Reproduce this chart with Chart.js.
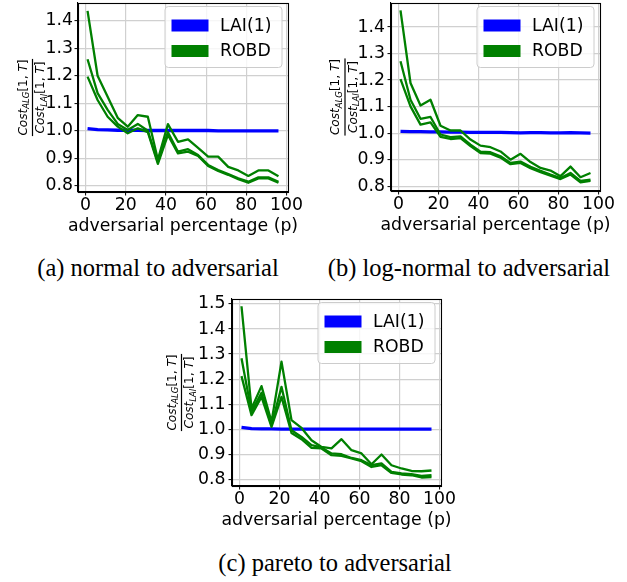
<!DOCTYPE html>
<html><head><meta charset="utf-8">
<script src="https://cdn.jsdelivr.net/npm/chart.js@4/dist/chart.umd.min.js"></script>
<style>
html,body{margin:0;padding:0;background:#fff;}
body{width:627px;height:582px;position:relative;overflow:hidden;}
canvas{position:absolute;}
.cap{position:absolute;font-family:"Liberation Serif","Times New Roman",serif;font-size:24.5px;color:#000;white-space:nowrap;transform:translateX(-50%);line-height:1;}
</style></head><body>
<canvas id="ca" width="310" height="245" style="left:0;top:0;width:310px;height:245px"></canvas>
<canvas id="cb" width="317" height="245" style="left:310px;top:0;width:317px;height:245px"></canvas>
<canvas id="cc" width="310" height="250" style="left:150px;top:290px;width:310px;height:250px"></canvas>
<div class="cap" style="left:158px;top:256px">(a) normal to adversarial</div>
<div class="cap" style="left:469px;top:256px">(b) log-normal to adversarial</div>
<div class="cap" style="left:335px;top:551px">(c) pareto to adversarial</div>
<script>
// ---------- data ----------
const pValues = [1,6,11,16,21,26,31,36,41,46,51,56,61,66,71,76,81,86,91,96];
const xTicks = [0,20,40,60,80,100];
const seriesNames = ['LAI(1)', 'ROBD'];
const xTitle = 'adversarial percentage (p)';

// (a) normal to adversarial
const yTicksA = [0.8,0.9,1.0,1.1,1.2,1.3,1.4];
const laiA = [1.008,1.004,1.003,1.002,1.002,1.002,1.001,1.001,1.001,1.001,1.001,1.001,1.001,1.000,1.000,1.000,1.000,1.000,1.000,1.000];
const robdUpperA = [1.436,1.200,1.124,1.047,1.015,1.057,1.051,0.895,1.024,0.960,0.969,0.938,0.906,0.906,0.869,0.856,0.836,0.856,0.856,0.835];
const robdMidA   = [1.260,1.137,1.076,1.025,1.003,1.025,1.000,0.886,0.995,0.924,0.933,0.912,0.876,0.857,0.843,0.827,0.815,0.831,0.831,0.815];
const robdLowA   = [1.197,1.112,1.051,1.015,0.991,1.009,0.995,0.880,0.985,0.918,0.924,0.909,0.872,0.854,0.840,0.824,0.811,0.827,0.827,0.811];

// (b) log-normal to adversarial
const yTicksB = [0.8,0.9,1.0,1.1,1.2,1.3,1.4];
const laiB = [1.007,1.006,1.006,1.005,1.005,1.004,1.004,1.003,1.003,1.003,1.003,1.002,1.001,1.002,1.002,1.001,1.001,1.002,1.001,1.000];
const robdUpperB = [1.463,1.189,1.104,1.126,1.028,1.010,1.010,0.976,0.953,0.947,0.931,0.900,0.922,0.891,0.869,0.859,0.838,0.874,0.834,0.850];
const robdMidB   = [1.271,1.126,1.054,1.061,0.995,0.985,0.988,0.957,0.930,0.928,0.913,0.888,0.893,0.873,0.858,0.844,0.831,0.850,0.820,0.825];
const robdLowB   = [1.204,1.101,1.032,1.041,0.986,0.978,0.981,0.951,0.925,0.923,0.908,0.883,0.888,0.868,0.853,0.840,0.827,0.844,0.815,0.820];

// (c) pareto to adversarial
const yTicksC = [0.8,0.9,1.0,1.1,1.2,1.3,1.4,1.5];
const laiC = [1.007,1.002,1.001,1.001,1.000,1.000,1.000,1.000,1.000,1.000,1.000,1.000,1.000,1.000,1.000,1.000,1.000,1.000,1.000,1.000];
const robdUpperC = [1.491,1.083,1.172,1.029,1.270,1.036,1.005,0.956,0.929,0.923,0.960,0.916,0.903,0.860,0.899,0.856,0.843,0.833,0.832,0.835];
const robdMidC   = [1.283,1.070,1.145,1.016,1.169,0.996,0.969,0.936,0.927,0.903,0.900,0.885,0.876,0.856,0.863,0.829,0.823,0.820,0.813,0.816];
const robdLowC   = [1.212,1.056,1.129,1.009,1.129,0.985,0.960,0.925,0.923,0.896,0.893,0.883,0.872,0.849,0.856,0.825,0.819,0.816,0.807,0.809];

// ---------- styling ----------
const BLUE = '#0000ff', GREEN = '#008000';
const FONT = '"DejaVu Sans", Verdana, sans-serif';
const FS = 17.3;

const framePlugin = {
  id: 'frame',
  afterDatasetsDraw(chart) {
    const {ctx, chartArea: a} = chart;
    ctx.save();
    ctx.strokeStyle = '#000'; ctx.lineWidth = 1.1;
    ctx.strokeRect(Math.round(a.left)+0.5, Math.round(a.top)+0.5, Math.round(a.right-a.left), Math.round(a.bottom-a.top));
    ctx.restore();
  }
};

const xTitlePlugin = {
  id: 'xTitle',
  afterDraw(chart, args, o) {
    const {ctx, chartArea: a} = chart;
    ctx.save();
    ctx.fillStyle = '#000'; ctx.font = FS + 'px ' + FONT;
    ctx.textAlign = 'center'; ctx.textBaseline = 'alphabetic';
    ctx.fillText(o.text, (a.left + a.right) / 2, a.bottom + o.baselineOffset);
    ctx.restore();
  }
};

const legendPlugin = {
  id: 'mplLegend',
  afterDraw(chart, args, o) {
    const {ctx, chartArea: a} = chart;
    const items = [];
    chart.data.datasets.forEach(d => { if (d.legendEntry) items.push(d); });
    const w = o.width, h = o.height;
    const x0 = a.right - o.insetRight - w, y0 = a.top + o.insetTop;
    ctx.save();
    ctx.beginPath();
    ctx.roundRect(x0, y0, w, h, 3.5);
    ctx.fillStyle = 'rgba(255,255,255,0.8)';
    ctx.fill();
    ctx.strokeStyle = '#cccccc'; ctx.lineWidth = 1;
    ctx.stroke();
    items.forEach((d, i) => {
      const cy = y0 + o.firstRow + i * o.rowGap;
      ctx.strokeStyle = d.borderColor; ctx.lineWidth = 12; ctx.lineCap = 'butt';
      ctx.beginPath(); ctx.moveTo(x0 + 6.5, cy); ctx.lineTo(x0 + 43.5, cy); ctx.stroke();
      ctx.fillStyle = '#000'; ctx.font = FS + 'px ' + FONT;
      ctx.textAlign = 'left'; ctx.textBaseline = 'middle';
      ctx.fillText(d.label, x0 + 55, cy + 1);
    });
    ctx.restore();
  }
};

const yLabelPlugin = {
  id: 'fracYLabel',
  afterDraw(chart, args, o) {
    const {ctx, chartArea: a} = chart;
    const cx = a.left + o.offsetX;
    const cy = (a.top + a.bottom) / 2;
    const fs = o.size;
    ctx.save();
    ctx.translate(cx, cy);
    ctx.rotate(-Math.PI / 2);
    ctx.fillStyle = '#000';
    ctx.textBaseline = 'alphabetic'; ctx.textAlign = 'left';
    const drawExpr = (sub, base) => {
      const parts = [
        {t: 'Cost', f: 'italic ' + fs + 'px ' + FONT, dy: 0},
        {t: sub, f: 'italic ' + (fs * 0.7) + 'px ' + FONT, dy: fs * 0.22},
        {t: '[1, ', f: fs + 'px ' + FONT, dy: 0},
        {t: 'T', f: 'italic ' + fs + 'px ' + FONT, dy: 0},
        {t: ']', f: fs + 'px ' + FONT, dy: 0}
      ];
      let w = 0;
      parts.forEach(p => { ctx.font = p.f; p.w = ctx.measureText(p.t).width; w += p.w; });
      let x = -w / 2;
      parts.forEach(p => { ctx.font = p.f; ctx.fillText(p.t, x, base + p.dy); x += p.w; });
      return w;
    };
    const w1 = drawExpr('ALG', -o.numGap);
    const w2 = drawExpr('LAI', o.denGap);
    const bw = Math.max(w1, w2) + 1;
    ctx.fillRect(-bw / 2, -0.6, bw, 1.2);
    ctx.restore();
  }
};

function makeChart(id, area, yMin, yMax, yTicks, yPad, yLabelX, lai, up, mid, low) {
  const canvas = document.getElementById(id);
  const W = canvas.width, H = canvas.height;
  const ds = (label, data, color, width, legendEntry, order) => ({
    label, data: pValues.map((p, i) => ({x: p, y: data[i]})),
    borderColor: color, backgroundColor: color, borderWidth: width,
    pointRadius: 0, tension: 0, fill: false, legendEntry, order,
    borderJoinStyle: 'round', borderCapStyle: 'butt'
  });
  return new Chart(canvas, {
    type: 'line',
    data: {
      datasets: [
        ds(seriesNames[0], lai, BLUE, 3.3, true, 1),
        ds(seriesNames[1], up, GREEN, 2.3, true, 0),
        ds(seriesNames[1], mid, GREEN, 2.3, false, 0),
        ds(seriesNames[1], low, GREEN, 2.3, false, 0)
      ]
    },
    plugins: [framePlugin, legendPlugin, yLabelPlugin, xTitlePlugin],
    options: {
      responsive: false, animation: false, devicePixelRatio: 1,
      layout: {padding: {left: 0, top: area.top, right: W - area.right, bottom: 0}},
      plugins: {
        legend: {display: false}, tooltip: {enabled: false},
        mplLegend: {width: 117, height: 61, insetRight: 6, insetTop: 3.5, firstRow: 19, rowGap: 25.5},
        fracYLabel: {offsetX: yLabelX, size: 12.1, numGap: 6, denGap: 11.7},
        xTitle: {text: xTitle, baselineOffset: 38.5}
      },
      scales: {
        x: {
          type: 'linear', min: -3.75, max: 100.75,
          afterBuildTicks: s => { s.ticks = xTicks.map(v => ({value: v})); },
          afterFit: s => { s.height = H - area.bottom; s.paddingLeft = 0; s.paddingRight = 0; },
          ticks: {color: '#000', font: {family: FONT, size: FS, lineHeight: 1}, padding: 1.5, maxRotation: 0,
                  callback: v => String(v)},
          grid: {color: '#d0d0d0', lineWidth: 1.2, drawTicks: true, tickLength: 3.5, tickColor: '#000', tickWidth: 1},
          border: {display: true, color: '#000', width: 1.1}
        },
        y: {
          type: 'linear', min: yMin, max: yMax,
          afterBuildTicks: s => { s.ticks = yTicks.map(v => ({value: v})); },
          afterFit: s => { s.width = area.left; s.paddingTop = 0; s.paddingBottom = 0; },
          ticks: {color: '#000', font: {family: FONT, size: FS, lineHeight: 1}, padding: yPad,
                  callback: v => Number(v).toFixed(1)},
          grid: {color: '#d0d0d0', lineWidth: 1.2, drawTicks: true, tickLength: 3.5, tickColor: '#000', tickWidth: 1},
          border: {display: true, color: '#000', width: 1.1}
        }
      }
    }
  });
}

makeChart('ca', {left: 78, top: 3, right: 288, bottom: 192}, 0.7775, 1.4645, yTicksA, 1.5, -45.5, laiA, robdUpperA, robdMidA, robdLowA);
makeChart('cb', {left: 81, top: 3, right: 290, bottom: 191}, 0.782, 1.4906, yTicksB, 2.5, -46, laiB, robdUpperB, robdMidB, robdLowB);
makeChart('cc', {left: 82, top: 9, right: 291, bottom: 196}, 0.773, 1.52, yTicksC, 3, -50.5, laiC, robdUpperC, robdMidC, robdLowC);
</script>
</body></html>
